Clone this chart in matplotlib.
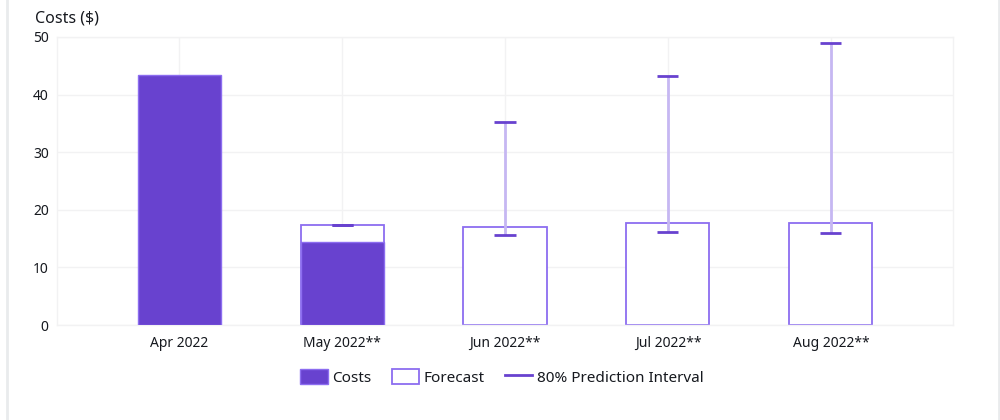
import matplotlib.pyplot as plt
from matplotlib.patches import Patch
from matplotlib.lines import Line2D

plt.rcParams['font.family'] = ['Noto Sans', 'DejaVu Sans']

# Data
months = ['Apr 2022', 'May 2022**', 'Jun 2022**', 'Jul 2022**', 'Aug 2022**']
costs = [43.4, 14.4, 0, 0, 0]
forecast = [0, 17.4, 17.0, 17.7, 17.7]
pi_low = [None, 17.4, 15.6, 16.1, 16.05]
pi_high = [None, 17.4, 35.2, 43.2, 48.9]

purple = '#6842cf'
edge = '#8c6df0'
light = '#c6b7f2'
grid = '#f2f2f3'

fig = plt.figure(figsize=(10, 4.2), dpi=100)
ax = fig.add_axes([0.057, 0.226, 0.896, 0.686])

x = list(range(len(months)))
w = 0.51

# forecast outline bars (white with purple edge)
for i in x:
    if forecast[i] > 0:
        ax.bar(i, forecast[i], width=w, facecolor='white', edgecolor=edge, linewidth=1.3, zorder=2)
# actual costs
for i in x:
    if costs[i] > 0:
        ax.bar(i, costs[i], width=w, facecolor=purple, edgecolor=edge, linewidth=1.0, zorder=3)

# prediction intervals
for i in x:
    if pi_low[i] is None:
        continue
    ax.vlines(i, pi_low[i], pi_high[i], color=light, linewidth=2.0, zorder=4)
    for v in (pi_low[i], pi_high[i]):
        ax.hlines(v, i - 0.065, i + 0.065, color=purple, linewidth=2.0, zorder=5)

ax.set_xlim(-0.75, 4.75)
ax.set_ylim(0, 50)
ax.set_yticks([0, 10, 20, 30, 40, 50])
ax.set_xticks(x)
ax.set_xticklabels(months)
ax.tick_params(length=0, labelsize=10, colors='#16191f', pad=8)
ax.tick_params(axis='y', pad=6)
ax.grid(True, color=grid, linewidth=1, zorder=0)
ax.set_axisbelow(True)
for s in ax.spines.values():
    s.set_color(grid)
    s.set_linewidth(1)

fig.text(0.035, 0.957, 'Costs ($)', fontsize=11.5, fontweight='semibold', color='#16191f', va='center')

handles = [
    Patch(facecolor=purple, edgecolor=edge, label='Costs'),
    Patch(facecolor='white', edgecolor=edge, linewidth=1.3, label='Forecast'),
    Line2D([0], [0], color=purple, linewidth=2, label='80% Prediction Interval'),
]
fig.legend(handles=handles, loc='center', bbox_to_anchor=(0.502, 0.102), ncol=3, frameon=False,
           fontsize=11, handlelength=1.8, handleheight=1.2, handletextpad=0.3, columnspacing=1.3,
           labelcolor='#16191f')

# card borders
fig.add_artist(Line2D([0.007, 0.007], [0, 1], color='#e9ebed', linewidth=2, transform=fig.transFigure))
fig.add_artist(Line2D([0.999, 0.999], [0, 1], color='#e9ebed', linewidth=2, transform=fig.transFigure))

fig.savefig('out.png', dpi=100, facecolor='white')
